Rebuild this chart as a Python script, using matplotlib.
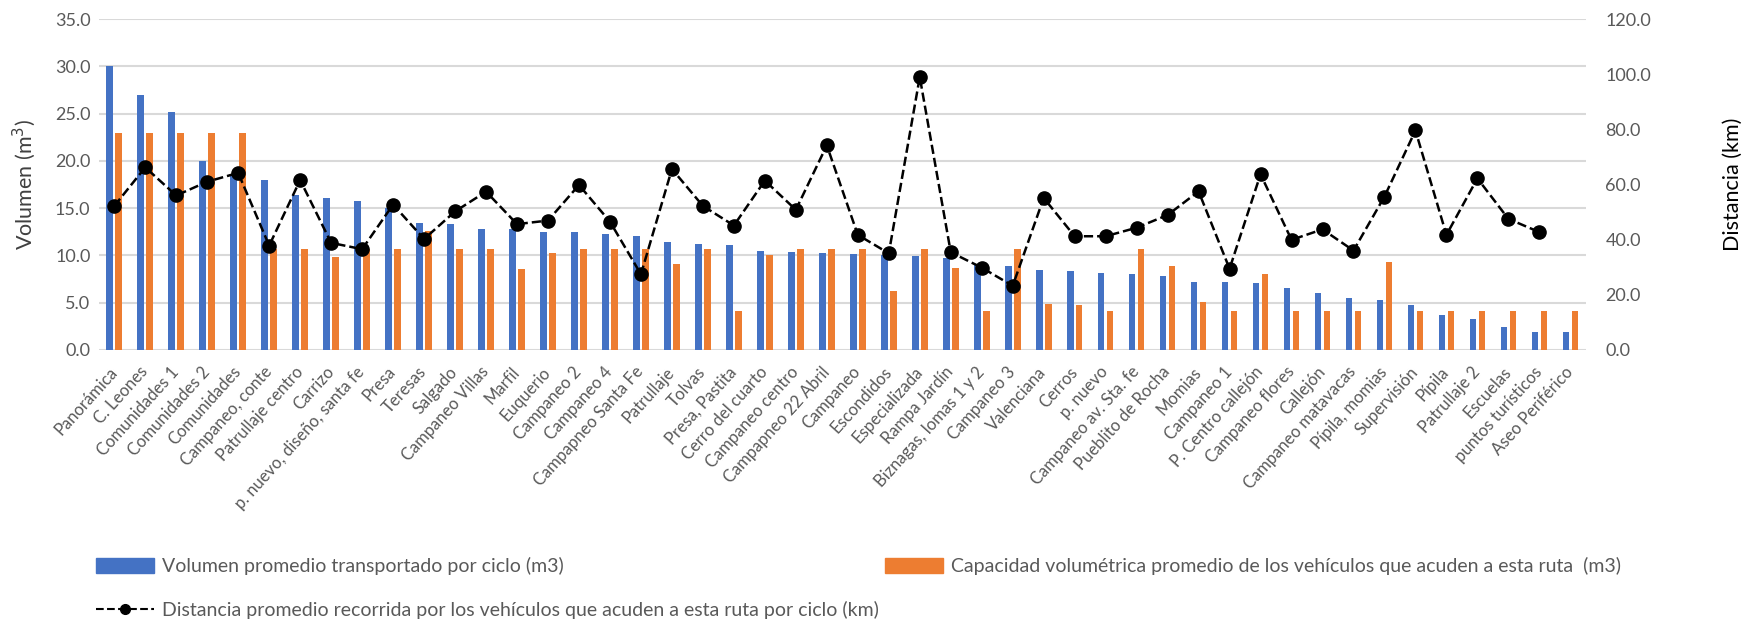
import numpy as np
import matplotlib
matplotlib.use("Agg")
import matplotlib.pyplot as plt
from matplotlib.lines import Line2D
from matplotlib.patches import Patch

plt.rcParams['font.family'] = ['Lato', 'DejaVu Sans']

rutas = ["Panorámica", "C. Leones", "Comunidades 1", "Comunidades 2", "Comunidades",
         "Campaneo, conte", "Patrullaje centro", "Carrizo", "p. nuevo, diseño, santa fe",
         "Presa", "Teresas", "Salgado", "Campaneo Villas", "Marfil", "Euquerio",
         "Campaneo 2", "Campaneo 4", "Campapneo Santa Fe", "Patrullaje", "Tolvas",
         "Presa, Pastita", "Cerro del cuarto", "Campaneo centro", "Campapneo 22 Abril",
         "Campaneo", "Escondidos", "Especializada", "Rampa Jardín", "Biznagas, lomas 1 y 2",
         "Campaneo 3", "Valenciana", "Cerros", "p. nuevo", "Campaneo av. Sta. fe",
         "Pueblito de Rocha", "Momias", "Campaneo 1", "P. Centro callejón",
         "Campaneo flores", "Callejón", "Campaneo matavacas", "Pípila, momias",
         "Supervisión", "Pípila", "Patrullaje 2", "Escuelas", "puntos turísticos",
         "Aseo Periférico"]

volumen = [30.0, 27.0, 25.2, 20.0, 18.6, 18.0, 16.35, 16.1, 15.8, 15.0, 13.4, 13.3,
           12.75, 12.75, 12.5, 12.5, 12.3, 12.0, 11.4, 11.2, 11.05, 10.5, 10.3, 10.2,
           10.1, 10.0, 9.9, 9.75, 9.0, 8.85, 8.4, 8.3, 8.15, 8.0, 7.85, 7.2, 7.2, 7.05,
           6.5, 6.05, 5.5, 5.25, 4.7, 3.7, 3.3, 2.45, 1.9, 1.9]

capacidad = [23.0, 23.0, 23.0, 23.0, 23.0, 10.7, 10.7, 9.8, 10.7, 10.7, 12.6, 10.7,
             10.7, 8.6, 10.2, 10.7, 10.7, 10.7, 9.1, 10.7, 4.1, 10.0, 10.7, 10.7,
             10.7, 6.2, 10.7, 8.7, 4.1, 10.7, 4.8, 4.7, 4.1, 10.7, 8.85, 5.1, 4.1, 8.0,
             4.1, 4.1, 4.1, 9.25, 4.1, 4.1, 4.1, 4.1, 4.1, 4.1]

distancia = [52.2, 66.2, 56.0, 61.0, 64.2, 37.8, 61.6, 38.8, 36.5, 52.7, 40.2, 50.2,
             57.4, 45.6, 46.9, 59.8, 46.5, 27.4, 65.6, 52.2, 45.1, 61.4, 50.8, 74.2,
             41.7, 35.0, 99.0, 35.4, 29.8, 23.2, 55.1, 41.2, 41.2, 44.3, 48.9, 57.5,
             29.4, 63.7, 39.9, 43.7, 36.0, 55.6, 79.6, 41.7, 62.2, 47.5, 42.7, np.nan]

azul = "#4472C4"
naranja = "#ED7D31"
gris = "#595959"

fig = plt.figure(figsize=(17.64, 6.19), dpi=100)
ax = fig.add_axes([0.056, 0.435, 0.843, 0.534])
ax2 = ax.twinx()

x = np.arange(len(rutas))
w = 0.215
ax.bar(x - 0.145, volumen, w, color=azul, zorder=2)
ax.bar(x + 0.145, capacidad, w, color=naranja, zorder=2)

ax.set_ylim(0, 35)
ax.set_yticks(np.arange(0, 35.1, 5))
ax.set_yticklabels([f"{v:.1f}" for v in np.arange(0, 35.1, 5)])
ax.set_xlim(-0.5, len(rutas) - 0.5)
ax.set_xticks(x)
ax.set_xticklabels(rutas, rotation=48, ha='right', va='center', rotation_mode='anchor',
                   fontsize=12, color=gris)
ax.grid(axis='y', color='#D9D9D9', lw=1.5, zorder=0)
ax.set_axisbelow(True)
ax.tick_params(axis='x', length=0, pad=14)
ax.tick_params(axis='y', length=0, pad=6, labelsize=13, labelcolor=gris)
for s in ax.spines.values():
    s.set_visible(False)
ax.set_ylabel("Volumen (m$^3$)", fontsize=15.5, color='#404040', labelpad=12)

ax2.plot(x, distancia, 'k--', marker='o', markersize=9.5, lw=1.8, zorder=3)
ax2.set_ylim(0, 120)
ax2.set_yticks(np.arange(0, 120.1, 20))
ax2.set_yticklabels([f"{v:.1f}" for v in np.arange(0, 120.1, 20)])
ax2.tick_params(axis='y', length=0, labelsize=13, labelcolor=gris, pad=14)
for s in ax2.spines.values():
    s.set_visible(False)
ax2.set_ylabel("Distancia (km)", fontsize=15.5, color='black', labelpad=52)

handles = [Patch(color=azul),
           Line2D([], [], color='k', ls='--', marker='o', markersize=7, lw=1.5),
           Patch(color=naranja),
           Patch(color='none')]
labels = ["Volumen promedio transportado por ciclo (m3)",
          "Distancia promedio recorrida por los vehículos que acuden a esta ruta por ciclo (km)",
          "Capacidad volumétrica promedio de los vehículos que acuden a esta ruta  (m3)",
          ""]
fig.legend(handles, labels, ncol=2, loc='lower left', bbox_to_anchor=(0.05, -0.012),
           frameon=False, fontsize=14, labelcolor=gris, handlelength=3.0,
           handleheight=0.8, columnspacing=0.3, labelspacing=1.3, handletextpad=0.4,
           borderaxespad=0)

fig.savefig("out.png", dpi=100)
